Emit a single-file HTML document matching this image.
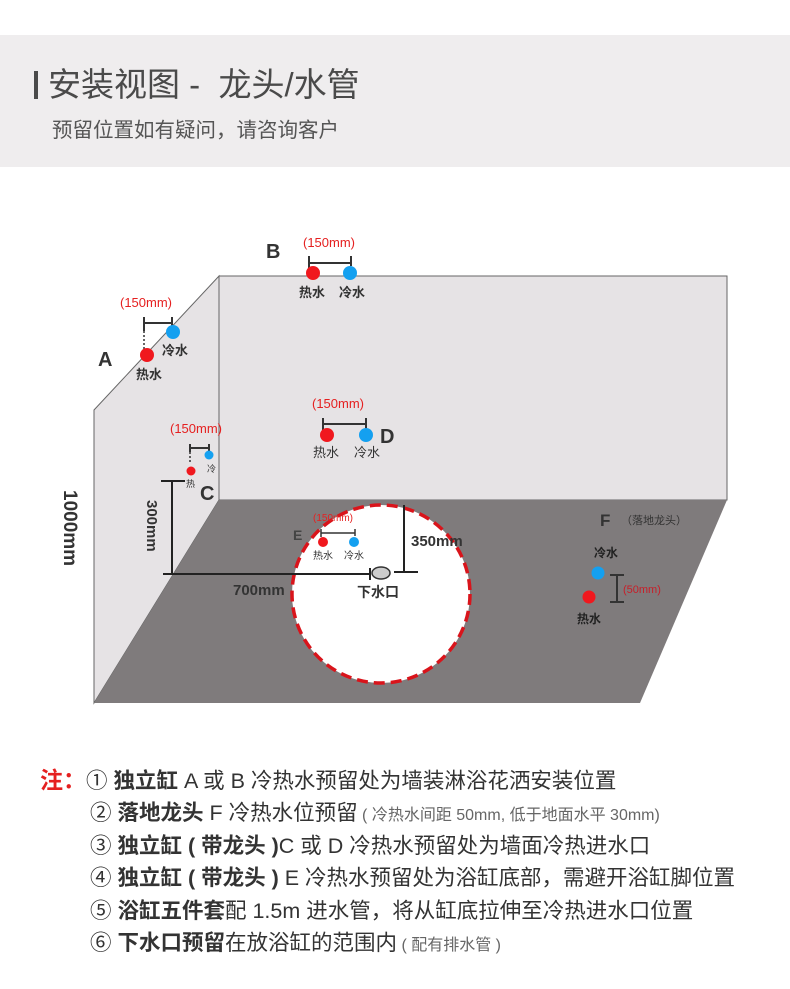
<!DOCTYPE html>
<html><head><meta charset="utf-8">
<style>
body{margin:0;width:790px;height:989px;background:#fff;overflow:hidden;font-family:"Liberation Sans","Noto Sans CJK SC",sans-serif;}
.hdr{position:absolute;left:0;top:35px;width:790px;height:132px;background:#efedee;}
.t1{position:absolute;left:34px;top:58px;font-size:33px;color:#4a4a4a;white-space:nowrap;}
.t2{position:absolute;left:52px;top:113px;font-size:20.5px;color:#555;white-space:nowrap;}
.notes{position:absolute;left:40px;top:765px;font-size:21.5px;color:#333;white-space:nowrap;}
.notes div{height:32.4px;line-height:32.4px;}
.notes b{font-weight:bold;}
.notes .s{font-size:16px;color:#666;line-height:16px;}
.red{color:#e52020;font-weight:bold;font-size:23px;line-height:23px;}
</style></head><body>
<div class="hdr"></div>
<div class="t1"><span style="display:inline-block;width:4px;height:28px;background:#4a4a4a;vertical-align:-3px;margin-right:10px"></span>安装视图 -&nbsp; 龙头/水管</div>
<div class="t2">预留位置如有疑问，请咨询客户</div>
<svg width="790" height="989" style="position:absolute;left:0;top:0" font-family="Liberation Sans, Noto Sans CJK SC, sans-serif">
<polygon points="94,410 219,276 219,500 94,703" fill="#e6e3e5" stroke="#666" stroke-width="1"/>
<rect x="219" y="276" width="508" height="224" fill="#e6e3e5" stroke="#666" stroke-width="1"/>
<polygon points="219,500 727,500 640,703 94,703" fill="#7f7b7c"/>
<circle cx="381" cy="594" r="89" fill="#fff" stroke="#d9141b" stroke-width="3.5" stroke-dasharray="11,6"/>
<text x="98" y="366" font-size="20" font-weight="bold" fill="#333">A</text>
<text x="120" y="307" font-size="13" fill="#e52020">(150mm)</text>
<path d="M144,317v14M144,323h28M172,317v10" stroke="#333" stroke-width="2" fill="none"/>
<path d="M144,331v20" stroke="#333" stroke-width="1.5" stroke-dasharray="2,2"/>
<circle cx="173" cy="332" r="7" fill="#14a0f0"/>
<circle cx="147" cy="355" r="7" fill="#f0181e"/>
<text x="162" y="355" font-size="13" font-weight="bold" fill="#333">冷水</text>
<text x="136" y="379" font-size="13" font-weight="bold" fill="#333">热水</text>
<text x="266" y="258" font-size="20" font-weight="bold" fill="#333">B</text>
<text x="303" y="247" font-size="13" fill="#e52020">(150mm)</text>
<path d="M309,256v12M309,263h42M351,256v10" stroke="#333" stroke-width="2" fill="none"/>
<circle cx="313" cy="273" r="7" fill="#f0181e"/>
<circle cx="350" cy="273" r="7" fill="#14a0f0"/>
<text x="299" y="297" font-size="13" font-weight="bold" fill="#333">热水</text>
<text x="339" y="297" font-size="13" font-weight="bold" fill="#333">冷水</text>
<text x="170" y="433" font-size="13" fill="#e52020">(150mm)</text>
<path d="M190,444v8M190,448h19M209,444v7" stroke="#333" stroke-width="2" fill="none"/>
<path d="M190,452v12" stroke="#333" stroke-width="1.5" stroke-dasharray="2,2"/>
<circle cx="209" cy="455" r="4.5" fill="#14a0f0"/>
<circle cx="191" cy="471" r="4.5" fill="#f0181e"/>
<text x="207" y="472" font-size="9" fill="#333">冷</text>
<text x="186" y="487" font-size="9" fill="#333">热</text>
<text x="200" y="500" font-size="20" font-weight="bold" fill="#333">C</text>
<text x="312" y="408" font-size="13" fill="#e52020">(150mm)</text>
<path d="M323,418v12M323,424h43M366,418v11" stroke="#333" stroke-width="2" fill="none"/>
<circle cx="327" cy="435" r="7" fill="#f0181e"/>
<circle cx="366" cy="435" r="7" fill="#14a0f0"/>
<text x="380" y="443" font-size="20" font-weight="bold" fill="#333">D</text>
<text x="313" y="457" font-size="13" fill="#333">热水</text>
<text x="354" y="457" font-size="13" fill="#333">冷水</text>
<text transform="translate(64,490) rotate(90)" font-size="19" font-weight="bold" fill="#333">1000mm</text>
<text transform="translate(147,500) rotate(90)" font-size="15" font-weight="bold" fill="#333">300mm</text>
<path d="M161,481h24M172,481v94M163,574h207M370,568v12" stroke="#222" stroke-width="2" fill="none"/>
<text x="233" y="595" font-size="15" font-weight="bold" fill="#333">700mm</text>
<ellipse cx="381" cy="573" rx="9" ry="6" fill="#ccc" stroke="#333" stroke-width="1.5"/>
<text x="357" y="597" font-size="14" font-weight="bold" fill="#333">下水口</text>
<path d="M404,505v67M394,572h24" stroke="#222" stroke-width="2" fill="none"/>
<text x="411" y="546" font-size="15" font-weight="bold" fill="#333">350mm</text>
<text x="293" y="540" font-size="14" font-weight="bold" fill="#444">E</text>
<text x="313" y="521" font-size="10" fill="#e52020">(150mm)</text>
<path d="M321,529v8M321,533h34M355,529v7" stroke="#333" stroke-width="1.5" fill="none"/>
<circle cx="323" cy="542" r="5" fill="#f0181e"/>
<circle cx="354" cy="542" r="5" fill="#14a0f0"/>
<text x="313" y="559" font-size="10" fill="#333">热水</text>
<text x="344" y="559" font-size="10" fill="#333">冷水</text>
<text x="600" y="526" font-size="17" font-weight="bold" fill="#333">F</text>
<text x="621" y="524" font-size="11" fill="#333">（落地龙头）</text>
<text x="594" y="557" font-size="12" font-weight="bold" fill="#222">冷水</text>
<circle cx="598" cy="573" r="6.5" fill="#14a0f0"/>
<circle cx="589" cy="597" r="6.5" fill="#f0181e"/>
<path d="M610,575h14M617,575v27M610,602h14" stroke="#333" stroke-width="2" fill="none"/>
<text x="623" y="593" font-size="11" fill="#c81e28">(50mm)</text>
<text x="577" y="623" font-size="12" font-weight="bold" fill="#222">热水</text>
</svg>
<div class="notes">
<div><span class="red">注：</span>① <b>独立缸</b> A 或 B 冷热水预留处为墙装淋浴花洒安装位置</div>
<div style="padding-left:50px">② <b>落地龙头</b> F 冷热水位预留<span class="s"> ( 冷热水间距 50mm, 低于地面水平 30mm)</span></div>
<div style="padding-left:50px">③ <b>独立缸 ( 带龙头 )</b>C 或 D 冷热水预留处为墙面冷热进水口</div>
<div style="padding-left:50px">④ <b>独立缸 ( 带龙头 )</b> E 冷热水预留处为浴缸底部，需避开浴缸脚位置</div>
<div style="padding-left:50px">⑤ <b>浴缸五件套</b>配 1.5m 进水管，将从缸底拉伸至冷热进水口位置</div>
<div style="padding-left:50px">⑥ <b>下水口预留</b>在放浴缸的范围内<span class="s"> ( 配有排水管 )</span></div>
</div>
</body></html>
